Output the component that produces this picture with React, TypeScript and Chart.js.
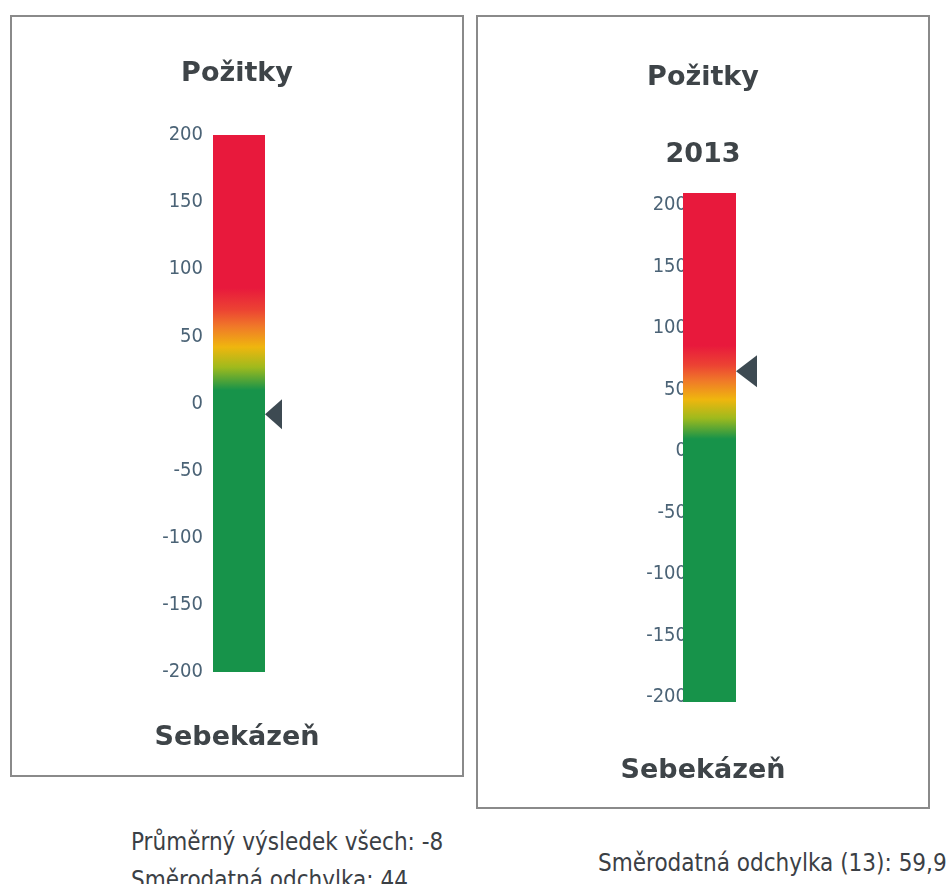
import React, { useEffect, useRef } from "react";
import { Chart, registerables } from "chart.js";

Chart.register(...registerables);

// ---- data ----
const GAUGE_TITLES = [["Požitky"], ["Požitky", "2013"]];
const GAUGE_BOTTOM_LABELS = ["Sebekázeň", "Sebekázeň"];
const RANGE_MIN = [-200, -204];
const RANGE_MAX = [200, 210];
const MARKER_VALUES = [-8, 65];
const TICK_VALUES = [-200, -150, -100, -50, 0, 50, 100, 150, 200];
const COLOR_STOP_VALUES = [10, 27, 42, 57, 70, 86];
const COLOR_STOPS = ["#17934a", "#9fba1d", "#efb60e", "#f07a28", "#ec4233", "#e8193c"];
const LEFT_NOTES = ["Průměrný výsledek všech: -8", "Směrodatná odchylka: 44"];
const RIGHT_NOTES = ["Směrodatná odchylka (13): 59,9"];

// ---- layout / style ----
const TITLE_COLOR = "#3e4448";
const TICK_COLOR = "#4b6376";
const MARKER_COLOR = "#3d4a52";
const NOTE_COLOR = "#3b4045";
const BOLD_FONT = '"DejaVu Sans", sans-serif';
const NARROW_FONT = '"DejaVu Sans Condensed", "DejaVu Sans", sans-serif';

const PANELS = [
  {
    left: 10, top: 15, w: 450, h: 758,
    axisW: 201, rightW: 197, tickPad: 10,
    titleLineHeight: 1.2, titlePadTop: 40.8, titlePadBottom: 44.8,
    bottomPadTop: 49.8, bottomPadBottom: 20.8,
    markerW: 17, markerH: 30,
  },
  {
    left: 476, top: 15, w: 450, h: 790,
    axisW: 205, rightW: 192, tickPad: -4,
    titleLineHeight: 77 / 27, titlePadTop: 22.5, titlePadBottom: -0.5,
    bottomPadTop: 52.8, bottomPadBottom: 19.8,
    markerW: 21, markerH: 32,
  },
];

const markerPlugin = {
  id: "gaugeMarker",
  afterDatasetsDraw(chart: any, _args: any, opts: any) {
    const bar = chart.getDatasetMeta(0).data[0];
    if (!bar) return;
    const { x, width } = bar.getProps(["x", "width"], true);
    const edge = x + width / 2;
    const y = chart.scales.y.getPixelForValue(opts.value);
    const ctx = chart.ctx;
    ctx.save();
    ctx.fillStyle = opts.color;
    ctx.beginPath();
    ctx.moveTo(edge, y);
    ctx.lineTo(edge + opts.w, y - opts.h / 2);
    ctx.lineTo(edge + opts.w, y + opts.h / 2);
    ctx.closePath();
    ctx.fill();
    ctx.restore();
  },
};

function Gauge({ idx }: { idx: number }) {
  const ref = useRef<HTMLCanvasElement | null>(null);
  const p = PANELS[idx];
  useEffect(() => {
    if (!ref.current) return;
    const min = RANGE_MIN[idx];
    const max = RANGE_MAX[idx];
    const chart = new Chart(ref.current, {
      type: "bar",
      data: {
        labels: [""],
        datasets: [
          {
            data: [[min, max]] as any,
            barPercentage: 1,
            categoryPercentage: 1,
            borderWidth: 0,
            backgroundColor: (c: any) => {
              const ch = c.chart;
              const ys = ch.scales && ch.scales.y;
              if (!ch.chartArea || !ys) return COLOR_STOPS[0];
              const y0 = ys.getPixelForValue(min);
              const y1 = ys.getPixelForValue(max);
              const g = ch.ctx.createLinearGradient(0, y0, 0, y1);
              g.addColorStop(0, COLOR_STOPS[0]);
              COLOR_STOP_VALUES.forEach((v, i) => {
                g.addColorStop((v - min) / (max - min), COLOR_STOPS[i]);
              });
              g.addColorStop(1, COLOR_STOPS[COLOR_STOPS.length - 1]);
              return g;
            },
          },
        ],
      },
      options: {
        animation: false,
        responsive: false,
        devicePixelRatio: 1,
        layout: { padding: 0 },
        plugins: {
          legend: { display: false },
          tooltip: { enabled: false },
          title: {
            display: true,
            text: GAUGE_TITLES[idx],
            color: TITLE_COLOR,
            font: { family: BOLD_FONT, size: 27, weight: "bold", lineHeight: p.titleLineHeight },
            padding: { top: p.titlePadTop, bottom: p.titlePadBottom },
          },
          subtitle: {
            display: true,
            position: "bottom",
            text: GAUGE_BOTTOM_LABELS[idx],
            color: TITLE_COLOR,
            font: { family: BOLD_FONT, size: 27, weight: "bold", lineHeight: 1.2 },
            padding: { top: p.bottomPadTop, bottom: p.bottomPadBottom },
          },
          gaugeMarker: {
            value: MARKER_VALUES[idx],
            w: p.markerW,
            h: p.markerH,
            color: MARKER_COLOR,
          },
        } as any,
        scales: {
          x: {
            display: false,
            offset: true,
          },
          y: {
            min,
            max,
            position: "left",
            grid: { display: false, drawTicks: false },
            border: { display: false },
            ticks: {
              color: TICK_COLOR,
              padding: p.tickPad,
              font: { family: NARROW_FONT, size: 20 },
            },
            afterBuildTicks: (s: any) => {
              s.ticks = TICK_VALUES.map((v) => ({ value: v }));
            },
            afterFit: (s: any) => {
              s.width = p.axisW;
            },
          },
          yRight: {
            type: "linear",
            position: "right",
            display: true,
            grid: { display: false, drawTicks: false },
            border: { display: false },
            ticks: { display: false },
            afterFit: (s: any) => {
              s.width = p.rightW;
            },
          },
        } as any,
      },
      plugins: [markerPlugin],
    });
    return () => chart.destroy();
  }, [idx]);

  return (
    <div
      style={{
        position: "absolute",
        left: p.left,
        top: p.top,
        width: p.w,
        height: p.h,
        border: "2px solid #8a8a8a",
        background: "#fff",
      }}
    >
      <canvas ref={ref} width={p.w} height={p.h} style={{ display: "block", width: p.w, height: p.h }} />
    </div>
  );
}

const noteStyle: React.CSSProperties = {
  position: "absolute",
  fontFamily: NARROW_FONT,
  fontSize: 24,
  lineHeight: "24px",
  color: NOTE_COLOR,
  whiteSpace: "nowrap",
};

export default function App() {
  return (
    <div
      style={{
        position: "fixed",
        left: 0,
        top: 0,
        width: 952,
        height: 884,
        overflow: "hidden",
        background: "#fff",
      }}
    >
      <Gauge idx={0} />
      <Gauge idx={1} />
      {LEFT_NOTES.map((t, i) => (
        <div key={"l" + i} style={{ ...noteStyle, left: 131, top: 830 + i * 38 }}>
          {t}
        </div>
      ))}
      {RIGHT_NOTES.map((t, i) => (
        <div key={"r" + i} style={{ ...noteStyle, left: 598, top: 851 + i * 38 }}>
          {t}
        </div>
      ))}
    </div>
  );
}
